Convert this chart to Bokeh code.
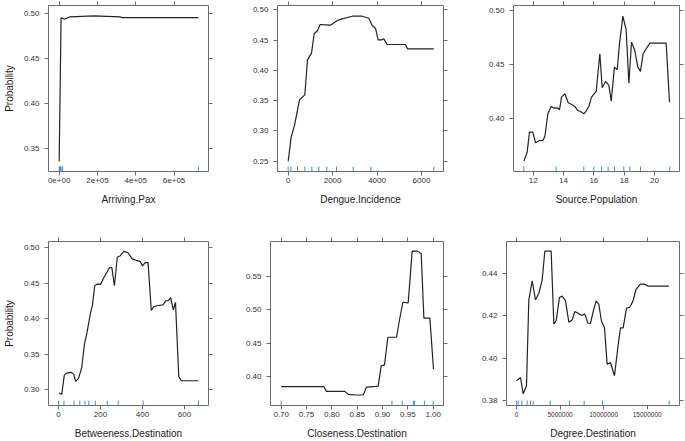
from bokeh.plotting import figure
from bokeh.layouts import row, column
from bokeh.models import Range1d, LinearAxis, FixedTicker, NumeralTickFormatter
from bokeh.embed import file_html
from bokeh.resources import INLINE

# ---------------- data ----------------
pax_x = [0, 10000, 27000, 55700, 182000, 317000, 329000, 727000]
pax_y = [0.3356, 0.4949, 0.4933, 0.4960, 0.4970, 0.4960, 0.4950, 0.4950]
pax_rug = [0, 3000, 7000, 10000, 17000, 727000]
pax_xticks = [0, 200000, 400000, 600000]
pax_xlabels = ["0e+00", "2e+05", "4e+05", "6e+05"]
pax_yticks = [0.35, 0.40, 0.45, 0.50]

den_x = [0, 134, 284, 509, 749, 869, 1049, 1169, 1319, 1439, 1679, 1904, 2204,
         2429, 2879, 3329, 3629, 3779, 3929, 4049, 4199, 4304, 4454, 5279, 5369, 6554]
den_y = [0.250, 0.290, 0.309, 0.3514, 0.3596, 0.4174, 0.4284, 0.4604, 0.4658,
         0.4757, 0.4752, 0.4746, 0.4823, 0.4851, 0.4894, 0.4894, 0.4860, 0.4741,
         0.4696, 0.4504, 0.4504, 0.4520, 0.4427, 0.4427, 0.4356, 0.4356]
den_rug = [0, 119, 419, 749, 1064, 1379, 1739, 2174, 2924, 3719, 6554]
den_xticks = [0, 2000, 4000, 6000]
den_xlabels = ["0", "2000", "4000", "6000"]
den_yticks = [0.25, 0.30, 0.35, 0.40, 0.45, 0.50]

src_x = [11.385, 11.60, 11.756, 11.976, 12.15, 12.415, 12.635, 12.77, 12.965, 13.185,
         13.405, 13.58, 13.735, 13.867, 14.087, 14.31, 14.57, 14.745, 14.94, 15.12,
         15.34, 15.515, 15.67, 15.845, 16.155, 16.395, 16.55, 16.77, 16.99, 17.145,
         17.36, 17.54, 17.69, 17.915, 18.13, 18.31, 18.485, 18.70, 18.90, 19.075,
         19.25, 19.69, 20.77, 20.99]
src_y = [0.3601, 0.3684, 0.3870, 0.3870, 0.3772, 0.3793, 0.3793, 0.3830, 0.4041, 0.4109,
         0.4093, 0.4096, 0.4078, 0.4195, 0.4226, 0.4143, 0.4124, 0.4109, 0.4071, 0.4062,
         0.4041, 0.4071, 0.4109, 0.4195, 0.4248, 0.4598, 0.4282, 0.4341, 0.4304, 0.4158,
         0.4474, 0.4450, 0.4690, 0.4947, 0.4821, 0.4325, 0.4706, 0.4629, 0.4474, 0.4434,
         0.4598, 0.4697, 0.4697, 0.4149]
src_rug = [11.382, 13.514, 15.339, 15.998, 16.504, 16.944, 17.362, 17.977, 18.373, 19.076, 21.01]
src_xticks = [12, 14, 16, 18, 20]
src_xlabels = ["12", "14", "16", "18", "20"]
src_yticks = [0.40, 0.45, 0.50]

bet_x = [3.2, 15.5, 27.8, 38.6, 61.7, 72.5, 81.7, 95.5, 110.9, 123.2, 135.5, 150.9,
         161.7, 172.5, 184.7, 200.1, 215.5, 243.2, 254, 266.3, 280.1, 292.4, 310.9,
         330.9, 349.4, 369.3, 387.8, 400.1, 412.4, 426.3, 441.7, 454, 474, 497, 510.9,
         523.2, 534, 546.3, 557, 572.4, 584.7, 664.7]
bet_y = [0.2954, 0.2932, 0.3205, 0.3233, 0.3243, 0.3219, 0.3117, 0.3159, 0.3312, 0.3637,
         0.3800, 0.4056, 0.4195, 0.4465, 0.4488, 0.4484, 0.4577, 0.4721, 0.4721, 0.4465,
         0.4869, 0.4883, 0.4948, 0.4930, 0.4846, 0.4823, 0.4809, 0.4744, 0.4790, 0.4790,
         0.4116, 0.4172, 0.4186, 0.4195, 0.4251, 0.4256, 0.4298, 0.4126, 0.4228, 0.3187,
         0.3126, 0.3126]
bet_rug = [0, 26, 73.9, 101.6, 126.2, 144.6, 175.4, 232.3, 284.6, 403.1, 666.1]
bet_xticks = [0, 200, 400, 600]
bet_xlabels = ["0", "200", "400", "600"]
bet_yticks = [0.30, 0.35, 0.40, 0.45, 0.50]

clo_x = [0.700, 0.7842, 0.7894, 0.8256, 0.8322, 0.8467, 0.8618, 0.8684, 0.8816, 0.8914,
         0.8973, 0.9039, 0.9105, 0.9203, 0.9276, 0.9335, 0.9401, 0.9506, 0.9585, 0.9691,
         0.9763, 0.9816, 0.9934, 1.0006]
clo_y = [0.3846, 0.3846, 0.3777, 0.3777, 0.3732, 0.3722, 0.3722, 0.3841, 0.3846, 0.3856,
         0.4157, 0.4172, 0.4586, 0.4586, 0.4586, 0.4848, 0.5110, 0.5100, 0.5875, 0.5875,
         0.5836, 0.4873, 0.4873, 0.4107]
clo_rug = [0.70, 0.9185, 0.9388, 0.9608, 0.9628, 0.9826, 1.0]
clo_xticks = [0.70, 0.75, 0.80, 0.85, 0.90, 0.95, 1.00]
clo_xlabels = ["0.70", "0.75", "0.80", "0.85", "0.90", "0.95", "1.00"]
clo_yticks = [0.40, 0.45, 0.50, 0.55]

deg_x = [0, 0.459e6, 0.765e6, 1.148e6, 1.415e6, 1.798e6, 2.18e6, 2.563e6, 2.946e6,
         3.252e6, 3.978e6, 4.285e6, 4.552e6, 4.935e6, 5.241e6, 5.624e6, 6.006e6,
         6.389e6, 6.695e6, 7.154e6, 7.537e6, 7.843e6, 8.187e6, 8.493e6, 8.799e6,
         9.143e6, 9.449e6, 9.755e6, 10.1e6, 10.405e6, 10.788e6, 11.247e6, 11.63e6,
         11.936e6, 12.242e6, 12.625e6, 12.969e6, 13.352e6, 13.734e6, 14.231e6,
         14.69e6, 15.073e6, 17.484e6]
deg_y = [0.3895, 0.3910, 0.3833, 0.3871, 0.4276, 0.4366, 0.4276, 0.4307, 0.4369,
         0.4506, 0.4506, 0.4162, 0.4178, 0.4287, 0.4294, 0.4271, 0.4171, 0.4181,
         0.4221, 0.4210, 0.4202, 0.4210, 0.4167, 0.4165, 0.4221, 0.4271, 0.4255,
         0.4175, 0.4144, 0.3973, 0.3980, 0.3918, 0.4050, 0.4144, 0.4144, 0.4237,
         0.4240, 0.4268, 0.4327, 0.4350, 0.4350, 0.4341, 0.4341]
deg_rug = [0, 0.191e6, 0.612e6, 1.224e6, 1.607e6, 1.913e6, 3.864e6, 6.082e6, 7.766e6, 9.870e6, 17.522e6]
deg_xticks = [0, 5000000, 10000000, 15000000]
deg_xlabels = ["0", "5000000", "10000000", "15000000"]
deg_yticks = [0.38, 0.40, 0.42, 0.44]

# ---------------- styling ----------------
FONT = "Liberation Sans"
FRAME = "#6b6b6b"
LINE = "#222222"
RUG = "#3b8fe8"


def style_axis(ax, ticks, labels=None, show_labels=True, title=None,
               label_size="8px", standoff=2, title_standoff=8):
    ax.ticker = FixedTicker(ticks=ticks)
    ax.axis_line_color = None
    ax.major_tick_line_color = FRAME
    ax.major_tick_in = 0
    ax.major_tick_out = 4
    ax.minor_tick_line_color = None
    ax.major_label_text_font = FONT
    if show_labels:
        ax.major_label_text_color = "#333333"
        ax.major_label_text_font_size = label_size
        ax.major_label_standoff = standoff
        if labels is not None:
            ax.major_label_overrides = {t: l for t, l in zip(ticks, labels)}
        else:
            ax.formatter = NumeralTickFormatter(format="0.00")
    else:
        ax.major_label_text_color = None
        ax.major_label_text_font_size = "1px"
        ax.major_label_standoff = 0
    if title:
        ax.axis_label = title
        ax.axis_label_text_font = FONT
        ax.axis_label_text_font_size = "10px"
        ax.axis_label_text_font_style = "normal"
        ax.axis_label_text_color = "#222222"
        ax.axis_label_standoff = title_standoff


def panel(x, y, rug, xticks, xlabels, yticks, xtitle, ytitle, xr, yr, w, h, bl, br, bt, bb,
          xlabel_size="8px"):
    p = figure(width=w, height=h, x_range=Range1d(*xr), y_range=Range1d(*yr),
               output_backend="svg", toolbar_location=None,
               min_border_left=bl, min_border_right=br, min_border_top=bt, min_border_bottom=bb)
    p.grid.visible = False
    p.outline_line_color = FRAME
    p.outline_line_width = 1
    p.background_fill_color = "white"
    p.border_fill_color = "white"
    style_axis(p.xaxis[0], xticks, xlabels, True, xtitle, xlabel_size, 2, 8)
    style_axis(p.yaxis[0], yticks, None, True, ytitle, "8px", 5, 6)
    top = LinearAxis()
    style_axis(top, xticks, None, False)
    p.add_layout(top, "above")
    right = LinearAxis()
    style_axis(right, yticks, None, False)
    p.add_layout(right, "right")
    y0 = yr[0]
    y1 = yr[0] + 0.03 * (yr[1] - yr[0])
    p.segment(x0=rug, x1=rug, y0=[y0] * len(rug), y1=[y1] * len(rug),
              line_color=RUG, line_width=1)
    p.line(x, y, line_color=LINE, line_width=1.2)
    return p


p1 = panel(pax_x, pax_y, pax_rug, pax_xticks, pax_xlabels, pax_yticks,
           "Arriving.Pax", "Probability", (-55700, 779700), (0.3245, 0.5085),
           232, 222, 44, 24, 5, 51)
p2 = panel(den_x, den_y, den_rug, den_xticks, den_xlabels, den_yticks,
           "Dengue.Incidence", None, (-481, 6990), (0.233, 0.5071),
           238, 222, 45, 27, 5, 51)
p3 = panel(src_x, src_y, src_rug, src_xticks, src_xlabels, src_yticks,
           "Source.Population", None, (10.70, 21.65), (0.3505, 0.5046),
           215, 222, 43, 6, 5, 51)
p4 = panel(bet_x, bet_y, bet_rug, bet_xticks, bet_xlabels, bet_yticks,
           "Betweeness.Destination", "Probability", (-47.5, 714), (0.2777, 0.5088),
           232, 219, 44, 24, 19, 36)
p5 = panel(clo_x, clo_y, clo_rug, clo_xticks, clo_xlabels, clo_yticks,
           "Closeness.Destination", None, (0.6789, 1.0203), (0.3565, 0.6019),
           238, 219, 38, 27, 19, 36)
p6 = panel(deg_x, deg_y, deg_rug, deg_xticks, deg_xlabels, deg_yticks,
           "Degree.Destination", None, (-1.148e6, 18.71e6), (0.3778, 0.4551),
           215, 219, 36, 6, 19, 36, xlabel_size="6.5px")

layout = column(row(p1, p2, p3), row(p4, p5, p6))
open("out.html", "w").write(file_html(layout, INLINE))
